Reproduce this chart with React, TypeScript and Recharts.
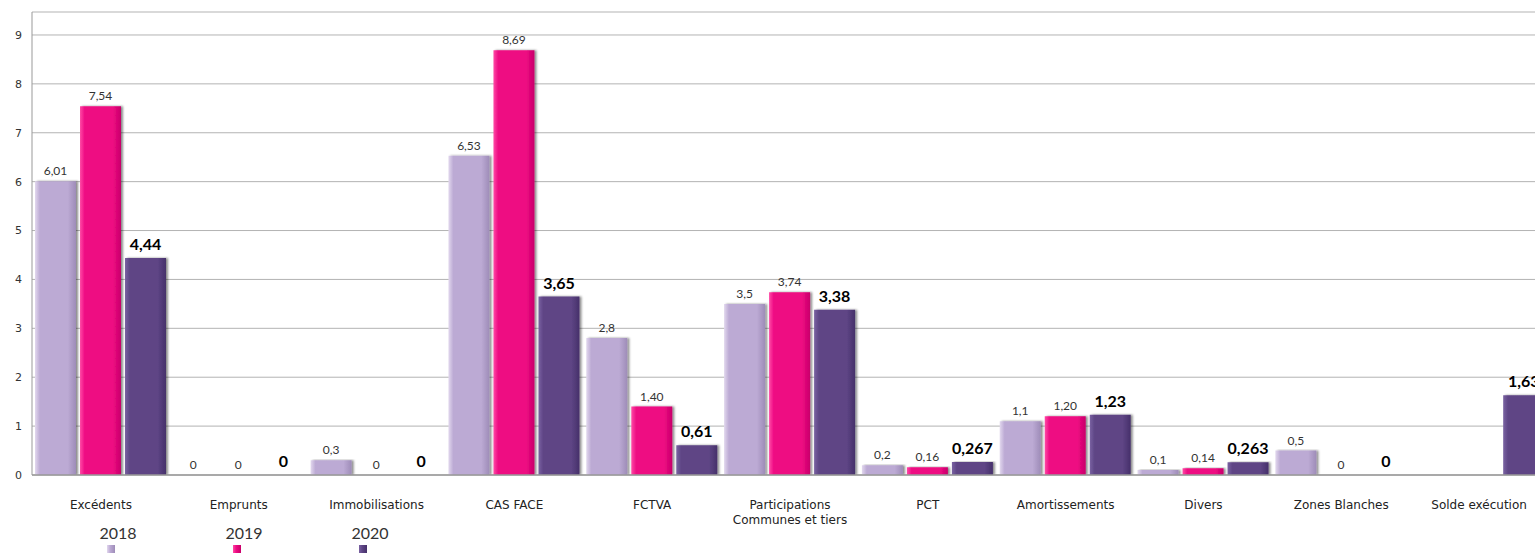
import { BarChart, Bar, XAxis, YAxis, CartesianGrid, LabelList } from 'recharts';

const categories = [
  'Excédents',
  'Emprunts',
  'Immobilisations',
  'CAS FACE',
  'FCTVA',
  'Participations\nCommunes et tiers',
  'PCT',
  'Amortissements',
  'Divers',
  'Zones Blanches',
  'Solde exécution',
];

const values2018 = [6.01, 0, 0.3, 6.53, 2.8, 3.5, 0.2, 1.1, 0.1, 0.5, null];
const values2019 = [7.54, 0, 0, 8.69, 1.4, 3.74, 0.16, 1.2, 0.14, 0, null];
const values2020 = [4.44, 0, 0, 3.65, 0.61, 3.38, 0.267, 1.23, 0.263, 0, 1.63];

const labels2018 = ['6,01', '0', '0,3', '6,53', '2,8', '3,5', '0,2', '1,1', '0,1', '0,5', ''];
const labels2019 = ['7,54', '0', '0', '8,69', '1,40', '3,74', '0,16', '1,20', '0,14', '0', ''];
const labels2020 = ['4,44', '0', '0', '3,65', '0,61', '3,38', '0,267', '1,23', '0,263', '0', '1,63'];

const yTicks = [0, 1, 2, 3, 4, 5, 6, 7, 8, 9];

const series = [
  { key: 'y2018', lab: 'l2018', name: '2018', light: '#e2d8ee', base: '#bcaad4', dark: '#9e8cb8', bold: false },
  { key: 'y2019', lab: 'l2019', name: '2019', light: '#ff4aa6', base: '#ee0a82', dark: '#c8006a', bold: false },
  { key: 'y2020', lab: 'l2020', name: '2020', light: '#7a62a2', base: '#5e4585', dark: '#46306a', bold: true },
];

const data = categories.map((name, i) => ({
  name,
  y2018: values2018[i],
  y2019: values2019[i],
  y2020: values2020[i],
  l2018: labels2018[i],
  l2019: labels2019[i],
  l2020: labels2020[i],
}));

const valueFont = 'Lato, "DejaVu Sans", sans-serif';
const axisFont = '"DejaVu Sans", Verdana, sans-serif';

function CategoryTick({ x, y, payload }: any) {
  const lines = String(payload.value).split('\n');
  return (
    <text x={x} y={y + 26} textAnchor="middle" fontFamily={axisFont} fontSize={12} fill="#222">
      {lines.map((l, i) => (
        <tspan key={i} x={x} dy={i === 0 ? 0 : 15}>
          {l}
        </tspan>
      ))}
    </text>
  );
}

function makeLabel(bold: boolean) {
  return (props: any) => {
    const { x, y, width, value } = props;
    if (!value) return null;
    return (
      <text
        x={x + width / 2}
        y={y - (bold ? 8 : 6)}
        textAnchor="middle"
        fontFamily={valueFont}
        fontSize={bold ? 16 : 12}
        fontWeight={bold ? 700 : 400}
        fill={bold ? '#000' : '#333'}
      >
        {value}
      </text>
    );
  };
}

export default function App() {
  return (
    <div style={{ position: 'absolute', left: 0, top: 0, width: 1535, height: 554, overflow: 'hidden', background: '#fff' }}>
      <BarChart
        width={1551}
        height={554}
        data={data}
        margin={{ top: 12, right: 3, bottom: 39, left: 0 }}
        barCategoryGap={3}
        barGap={4}
      >
        <defs>
          {series.map((s) => (
            <linearGradient key={s.key} id={`grad-${s.key}`} x1="0" y1="0" x2="1" y2="0">
              <stop offset="0%" stopColor={s.light} />
              <stop offset="12%" stopColor={s.base} />
              <stop offset="80%" stopColor={s.base} />
              <stop offset="100%" stopColor={s.dark} />
            </linearGradient>
          ))}
          <filter id="barShadow" x="-20%" y="-5%" width="140%" height="110%">
            <feDropShadow dx="2" dy="0" stdDeviation="1" floodColor="#000" floodOpacity="0.45" />
          </filter>
        </defs>
        <CartesianGrid vertical={false} stroke="#b3b3b3" />
        <XAxis
          dataKey="name"
          interval={0}
          tickLine={false}
          axisLine={{ stroke: '#999', strokeWidth: 1.5 }}
          tick={<CategoryTick />}
          height={40}
        />
        <YAxis
          width={32}
          domain={[0, 9.47]}
          ticks={yTicks}
          allowDataOverflow
          tickLine={false}
          axisLine={{ stroke: '#999' }}
          tick={{ fontFamily: axisFont, fontSize: 11, fill: '#333' }}
          tickMargin={4}
        />
        {series.map((s) => (
          <Bar
            key={s.key}
            dataKey={s.key}
            name={s.name}
            fill={`url(#grad-${s.key})`}
            filter="url(#barShadow)"
            minPointSize={0.01}
            isAnimationActive={false}
          >
            <LabelList dataKey={s.lab} content={makeLabel(s.bold)} />
          </Bar>
        ))}
      </BarChart>
      {series.map((s, i) => (
        <div
          key={s.key}
          style={{
            position: 'absolute',
            left: 98 + i * 126,
            top: 524,
            width: 40,
            textAlign: 'center',
            fontFamily: valueFont,
            fontSize: 16,
            color: '#333',
            lineHeight: '18px',
          }}
        >
          {s.name}
          <div
            style={{
              width: 8,
              height: 8,
              margin: '3px 0 0 9px',
              background: `linear-gradient(to right, ${s.light}, ${s.base} 40%, ${s.dark})`,
            }}
          />
        </div>
      ))}
    </div>
  );
}
